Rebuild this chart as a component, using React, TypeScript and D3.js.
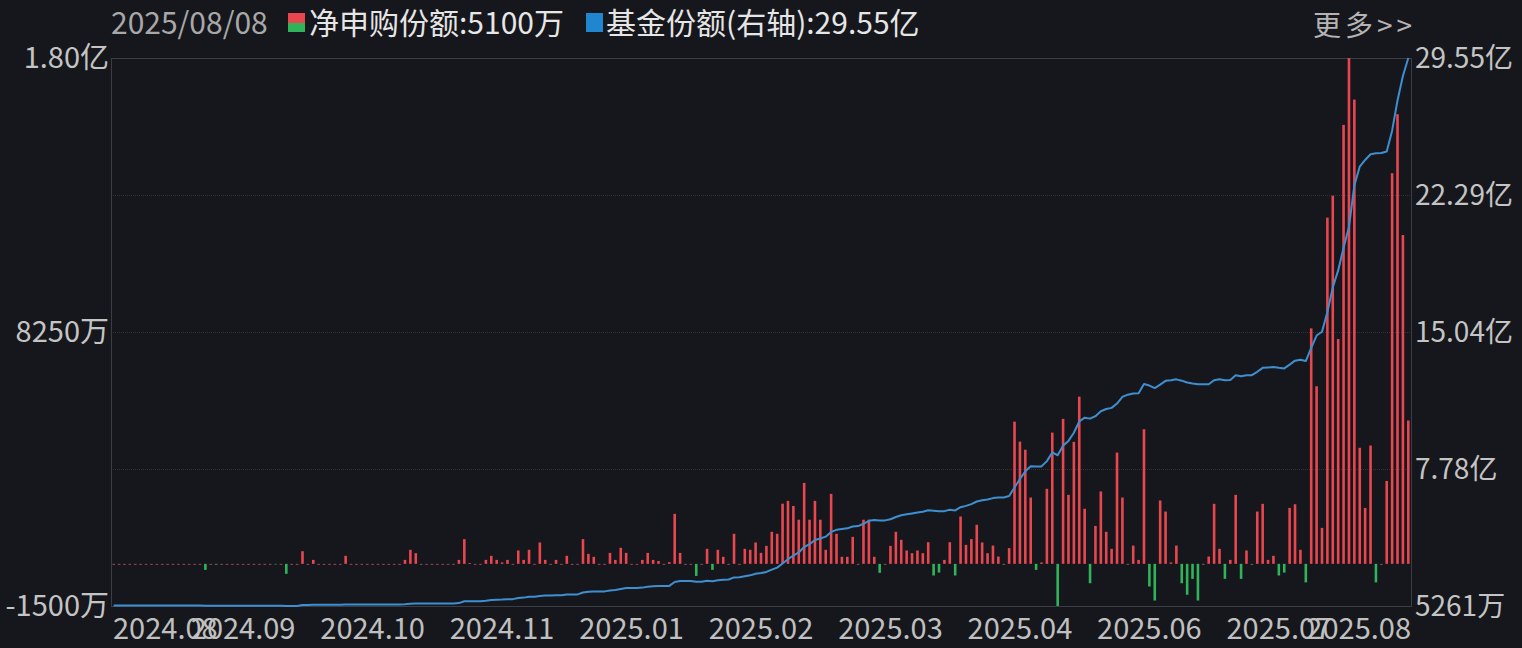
import { useEffect, useRef } from 'react'
import * as d3 from 'd3'

// net subscription per trading day, in 万 (left axis)
const netValues: number[] = [
  0, 0, 0, 0, 0, 0, 0, 0, 0, 0,
  0, 0, 0, 0, 0, 0, 0, -215, 0, -30,
  0, 0, 0, 0, 0, 0, 0, 0, 0, 0,
  -20, 0, -355, 0, 0, 450, 0, 140, 0, 0,
  0, 0, 0, 285, 0, 0, 0, 0, 0, 0,
  0, 0, 0, 0, 140, 500, 380, 0, 0, 0,
  0, 0, 0, 0, 140, 880, 30, 0, 0, 140,
  285, 140, 50, 140, 0, 475, 140, 500, 0, 760,
  140, 0, 140, 0, 285, 0, 0, 880, 355, 250,
  0, 0, 390, 140, 570, 390, 0, 0, 140, 390,
  140, 100, 0, 60, 1780, 390, 0, 0, -430, 0,
  535, -215, 500, 250, 0, 1070, 0, 535, 500, 760,
  390, 640, 1140, 1070, 2140, 2240, 2060, 1570, 2880, 1570,
  2240, 1570, 500, 2490, 1070, 250, 250, 960, 0, 1570,
  1570, 250, -320, 0, 640, 1140, 855, 475, 380, 475,
  380, 770, -415, -310, 140, 770, -415, 1685, 675, 880,
  1390, 760, 380, 650, 260, 0, 560, 5060, 4350, 4060,
  2360, -215, 50, 2670, 4670, -1500, 5160, 2455, 4340, 5950,
  1960, -690, 1350, 2575, 1140, 534, 3960, 2360, 0, 650,
  140, 4790, -805, -1305, 2255, 1860, 50, 650, -690, -1100,
  -535, -1305, 0, 260, 2135, 534, -535, 140, 2455, -535,
  475, 0, 1860, 2135, 140, 285, -415, -310, 1990, 2120,
  500, -660, 8380, 6320, 1280, 12320, 13100, 8000, 15620, 18000,
  16520, 4130, 1990, 4210, -660, 0, 2950, 13900, 16000, 11700,
  5100,
]

// fund shares, in 亿 (right axis)
const shareValues: number[] = [
  0.55, 0.55, 0.55, 0.55, 0.55, 0.55, 0.55, 0.55, 0.55, 0.55,
  0.55, 0.55, 0.55, 0.55, 0.55, 0.55, 0.55, 0.535, 0.535, 0.535,
  0.535, 0.535, 0.535, 0.535, 0.535, 0.535, 0.535, 0.535, 0.535, 0.535,
  0.535, 0.535, 0.5261, 0.5261, 0.5261, 0.575, 0.575, 0.59, 0.59, 0.59,
  0.59, 0.59, 0.59, 0.61, 0.61, 0.61, 0.61, 0.61, 0.61, 0.61,
  0.61, 0.61, 0.61, 0.61, 0.62, 0.64, 0.66, 0.66, 0.66, 0.66,
  0.66, 0.66, 0.66, 0.66, 0.68, 0.78, 0.78, 0.78, 0.78, 0.80,
  0.84, 0.86, 0.87, 0.89, 0.89, 0.95, 0.97, 1.02, 1.02, 1.06,
  1.08, 1.08, 1.10, 1.10, 1.14, 1.14, 1.14, 1.24, 1.28, 1.30,
  1.30, 1.30, 1.35, 1.37, 1.43, 1.48, 1.48, 1.48, 1.50, 1.55,
  1.57, 1.58, 1.58, 1.59, 1.80, 1.85, 1.85, 1.85, 1.81, 1.81,
  1.86, 1.84, 1.89, 1.92, 1.93, 2.04, 2.05, 2.10, 2.15, 2.23,
  2.27, 2.33, 2.45, 2.56, 2.78, 3.00, 3.20, 3.36, 3.65, 3.80,
  4.02, 4.10, 4.20, 4.45, 4.56, 4.60, 4.64, 4.74, 4.76, 4.88,
  5.04, 5.08, 5.05, 5.06, 5.12, 5.24, 5.33, 5.38, 5.43, 5.48,
  5.52, 5.60, 5.57, 5.54, 5.55, 5.62, 5.59, 5.76, 5.83, 5.92,
  6.06, 6.13, 6.17, 6.24, 6.27, 6.27, 6.35, 6.80, 7.25, 7.66,
  7.93, 7.91, 7.92, 8.20, 8.66, 8.51, 9.02, 9.27, 9.70, 10.30,
  10.50, 10.45, 10.58, 10.84, 10.96, 11.02, 11.25, 11.60, 11.72, 11.78,
  11.80, 12.28, 12.20, 12.07, 12.25, 12.45, 12.48, 12.53, 12.46, 12.36,
  12.31, 12.27, 12.27, 12.27, 12.48, 12.53, 12.48, 12.50, 12.75, 12.70,
  12.75, 12.75, 12.93, 13.14, 13.16, 13.18, 13.14, 13.11, 13.31, 13.52,
  13.57, 13.50, 14.20, 14.85, 15.05, 16.10, 17.40, 18.30, 19.50, 20.60,
  22.80, 23.80, 24.15, 24.45, 24.50, 24.52, 24.60, 25.70, 27.30, 28.60,
  29.55,
]

// x tick labels (bar index -> month text)
const xTickIndex = [0, 24, 48, 72, 96, 120, 144, 168, 192, 216, 240]
const xTickLabels = ['2024.08', '2024.09', '2024.10', '2024.11', '2025.01', '2025.02', '2025.03', '2025.04', '2025.06', '2025.07', '2025.08']

const leftTicks = [18000, 8250, -1500]
const leftTickLabels = ['1.80亿', '8250万', '-1500万']
const rightTicks = [29.55, 22.29, 15.04, 7.78, 0.5261]
const rightTickLabels = ['29.55亿', '22.29亿', '15.04亿', '7.78亿', '5261万']

const FONT = "'Noto Sans CJK SC', 'Noto Sans', sans-serif"
const UP = '#e8474f'
const DOWN = '#2fb45a'
const LINE = '#3f8fd0'

export default function App() {
  const svgRef = useRef<SVGSVGElement>(null)

  useEffect(() => {
    if (!svgRef.current) return
    const svg = d3.select(svgRef.current)
    svg.selectAll('*').remove()

    const W = 1522, H = 648
    const m = { top: 58, right: 111, bottom: 42, left: 111 }
    const x0 = m.left, x1 = W - m.right, y0 = m.top, y1 = H - m.bottom

    svg.append('rect').attr('width', W).attr('height', H).attr('fill', '#16171c')

    const idx = netValues.map((_, i) => i)
    const x = d3.scaleBand<number>().domain(idx).range([x0, x1]).paddingInner(0.52).paddingOuter(0.26)
    const yL = d3.scaleLinear().domain([-1500, 18000]).range([y1, y0])
    const yR = d3.scaleLinear().domain([0.5261, 29.55]).range([y1, y0])
    const cx = (i: number) => (x(i) ?? 0) + x.bandwidth() / 2

    // grid
    svg.append('g').selectAll('line').data(rightTicks.slice(1, -1)).join('line')
      .attr('x1', x0).attr('x2', x1)
      .attr('y1', d => Math.round(yR(d)) + 0.5).attr('y2', d => Math.round(yR(d)) + 0.5)
      .attr('stroke', '#30333a').attr('stroke-dasharray', '1,1')

    // frame
    svg.append('rect').attr('x', x0 + 0.5).attr('y', y0 + 0.5)
      .attr('width', x1 - x0).attr('height', y1 - y0)
      .attr('fill', 'none').attr('stroke', '#3a3d44').attr('stroke-width', 1)

    // bars
    const zero = yL(0)
    svg.append('g').selectAll('rect').data(netValues).join('rect')
      .attr('x', (_, i) => x(i) ?? 0)
      .attr('width', x.bandwidth())
      .attr('y', d => d > 0 ? yL(d) : zero)
      .attr('height', d => d === 0 ? 1 : Math.abs(yL(d) - zero))
      .attr('fill', d => d > 0 ? UP : d < 0 ? DOWN : '#9a4a52')

    // share line
    const line = d3.line<number>().x((_, i) => cx(i)).y(d => yR(d))
    svg.append('path').datum(shareValues)
      .attr('fill', 'none').attr('stroke', LINE).attr('stroke-width', 2)
      .attr('stroke-linejoin', 'round').attr('d', line)

    // left axis labels
    svg.append('g').selectAll('text').data(leftTicks).join('text')
      .attr('x', 109).attr('y', d => yL(d)).attr('dy', '0.36em')
      .attr('text-anchor', 'end').attr('fill', '#c4c4c4')
      .attr('font-size', 29).attr('font-family', FONT)
      .text((_, i) => leftTickLabels[i])

    // right axis labels
    svg.append('g').selectAll('text').data(rightTicks).join('text')
      .attr('x', 1415).attr('y', d => yR(d)).attr('dy', '0.36em')
      .attr('text-anchor', 'start').attr('fill', '#c4c4c4')
      .attr('font-size', 28).attr('font-family', FONT)
      .text((_, i) => rightTickLabels[i])

    // bottom labels
    svg.append('g').selectAll('text').data(xTickIndex).join('text')
      .attr('x', (d, i) => i === 0 ? x0 + 2 : i === xTickIndex.length - 1 ? x1 : cx(d))
      .attr('y', 639)
      .attr('text-anchor', (_, i) => i === 0 ? 'start' : i === xTickIndex.length - 1 ? 'end' : 'middle')
      .attr('fill', '#c0c0c0').attr('font-size', 29).attr('font-family', FONT)
      .text((_, i) => xTickLabels[i])

    // header
    const hdr = svg.append('g').attr('font-family', FONT).attr('font-size', 30)
    hdr.append('text').attr('x', 111).attr('y', 34).attr('fill', '#a8a8a8').text('2025/08/08')
    hdr.append('rect').attr('x', 288).attr('y', 13).attr('width', 17).attr('height', 10).attr('fill', UP)
    hdr.append('rect').attr('x', 288).attr('y', 23).attr('width', 17).attr('height', 9).attr('fill', DOWN)
    hdr.append('text').attr('x', 309).attr('y', 34).attr('fill', '#e6e6e6').text('净申购份额:5100万')
    hdr.append('rect').attr('x', 586).attr('y', 13).attr('width', 17).attr('height', 19).attr('fill', '#1f86cf')
    hdr.append('text').attr('x', 606).attr('y', 34).attr('fill', '#e6e6e6').text('基金份额(右轴):29.55亿')
    hdr.append('text').attr('x', 1313).attr('y', 36)
      .attr('fill', '#b4b4b4').attr('font-size', 28)
      .attr('textLength', 99).attr('lengthAdjust', 'spacing').text('更多>>')
  }, [])

  return (
    <div style={{ position: 'fixed', left: 0, top: 0, width: 1522, height: 648 }}>
      <svg ref={svgRef} width={1522} height={648} style={{ display: 'block' }} />
    </div>
  )
}
